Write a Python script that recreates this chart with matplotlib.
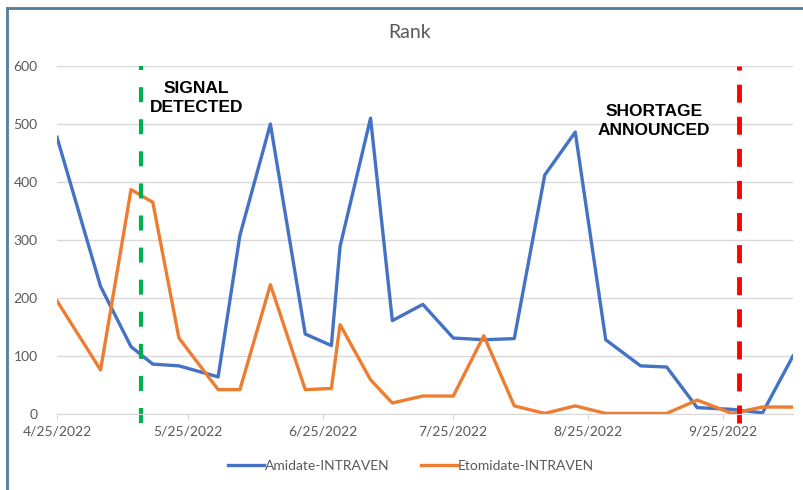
import pandas as pd
import matplotlib
matplotlib.use('Agg')
import matplotlib.pyplot as plt
import matplotlib.dates as mdates
from matplotlib.lines import Line2D
from matplotlib.ticker import FuncFormatter

# datos
fechas = ['2022-04-25', '2022-05-05', '2022-05-12', '2022-05-17', '2022-05-23',
          '2022-06-01', '2022-06-06', '2022-06-13', '2022-06-21', '2022-06-27',
          '2022-06-29', '2022-07-06', '2022-07-11', '2022-07-18', '2022-07-25',
          '2022-08-01', '2022-08-08', '2022-08-15', '2022-08-22', '2022-08-29',
          '2022-09-06', '2022-09-12', '2022-09-19', '2022-09-27', '2022-10-04',
          '2022-10-11']
amidate = [477, 220, 116, 86, 83, 64, 308, 500, 138, 118, 289, 510, 161, 189,
           131, 128, 130, 412, 486, 128, 83, 81, 11, 8, 2, 100]
etomidate = [195, 76, 387, 365, 131, 42, 42, 223, 42, 44, 154, 59, 19, 31,
             31, 135, 14, 1, 14, 1, 1, 1, 24, 1, 12, 12]
serie_nombres = ['Amidate-INTRAVEN', 'Etomidate-INTRAVEN']
fecha_senal = '2022-05-14 06:00'
fecha_escasez = '2022-09-28 12:00'
texto_senal = 'SIGNAL\nDETECTED'
texto_escasez = 'SHORTAGE\nANNOUNCED'

x = pd.to_datetime(fechas)

plt.rcParams['font.family'] = ['Lato', 'DejaVu Sans']

fig = plt.figure(figsize=(8.04, 4.90), dpi=100)
ax = fig.add_axes([0.0709, 0.1551, 0.9154, 0.7102])

ax.plot(x, amidate, color='#4472C4', lw=2.4, label=serie_nombres[0])
ax.plot(x, etomidate, color='#ED7D31', lw=2.4, label=serie_nombres[1])

# lineas verticales de eventos
ax.plot(pd.to_datetime([fecha_senal] * 2), [-16, 600], color='#00B050', lw=3,
        linestyle=(0, (3.6, 4.1)), clip_on=False)
ax.plot(pd.to_datetime([fecha_escasez] * 2), [-16, 600], color='#FF0000', lw=3.5,
        linestyle=(0, (3.7, 2.9)), clip_on=False)

ax.text(pd.to_datetime('2022-05-27'), 545, texto_senal, ha='center', va='center',
        fontsize=12.5, fontweight='bold', family='Liberation Sans', linespacing=1.3)
ax.text(pd.to_datetime('2022-09-09'), 505, texto_escasez, ha='center', va='center',
        fontsize=12.5, fontweight='bold', family='Liberation Sans', linespacing=1.3)

ax.set_xlim(x[0], x[-1])
ax.set_ylim(0, 600)
ax.set_yticks(range(0, 601, 100))
ax.grid(axis='y', color='#D9D9D9', lw=1)
ax.set_axisbelow(True)
ax.xaxis.set_major_locator(mdates.MonthLocator(bymonthday=25))
ax.xaxis.set_major_formatter(FuncFormatter(
    lambda v, p: '{d.month}/{d.day}/{d.year}'.format(d=mdates.num2date(v))))
for s in ['top', 'right', 'left']:
    ax.spines[s].set_visible(False)
ax.spines['bottom'].set_color('#D9D9D9')
ax.tick_params(axis='y', length=0, pad=14, labelsize=10, labelcolor='#595959')
ax.tick_params(axis='x', length=4, color='#D9D9D9', pad=4, labelsize=10, labelcolor='#595959')

fig.text(410 / 804, 1 - 32 / 490, 'Rank', ha='center', va='center', fontsize=14, color='#595959')

fig.legend(loc='center', bbox_to_anchor=(411 / 804, 1 - 466 / 490), ncol=2, frameon=False,
           fontsize=10, labelcolor='#595959', handlelength=2.6, handletextpad=0.1,
           columnspacing=2.2)

# marco del area del grafico
fig.add_artist(Line2D([7 / 804, 7 / 804], [0, 1 - 8 / 490], color='#4F7F9A', lw=2))
fig.add_artist(Line2D([7 / 804, 1], [1 - 8 / 490, 1 - 8 / 490], color='#4F7F9A', lw=2))

fig.savefig('out.png', dpi=100)
plt.close()
